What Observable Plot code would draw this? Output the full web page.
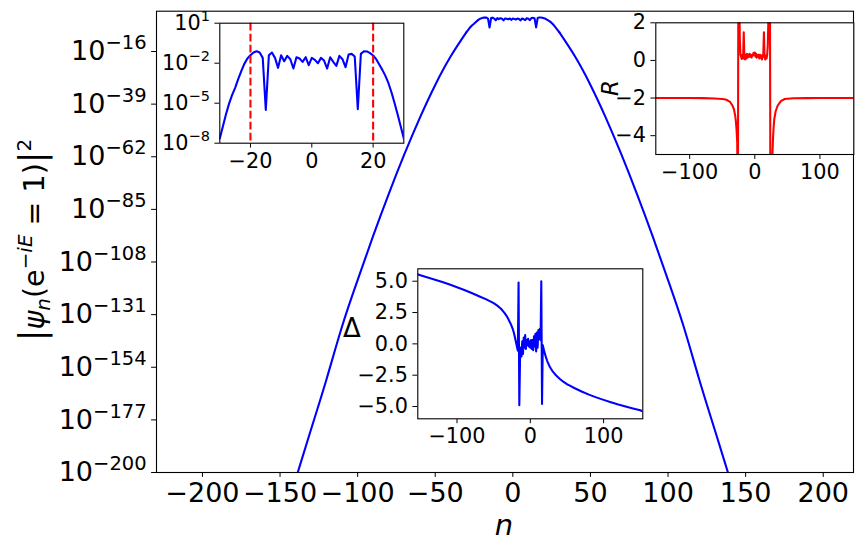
<!DOCTYPE html>
<html><head><meta charset="utf-8">
<script src="https://cdn.jsdelivr.net/npm/d3@7"></script>
<script src="https://cdn.jsdelivr.net/npm/@observablehq/plot@0.6"></script>
<style>
html,body{margin:0;padding:0;background:#fff;}
#wrap{position:relative;width:863px;height:554px;overflow:hidden;font-family:"DejaVu Sans";}
#wrap svg{position:absolute;left:0;top:0;}
</style></head><body><div id="wrap"></div>
<script>
// ---------- main panel data: log10 |psi_n|^2 ----------
const mainXTicks = [-200, -150, -100, -50, 0, 50, 100, 150, 200];
const mainYTickExp = [-200, -177, -154, -131, -108, -85, -62, -39, -16];
const leftN   = [-150, -140, -130, -120, -110, -100, -90, -80, -70, -60, -50, -40, -30];
const leftLog = [-225, -203.1, -181.1, -159.1, -136.1, -115.9, -96.6, -78.3, -61.1, -45.1, -30.6, -18.1, -7.65];
const coreN = [-30,-29,-28,-27,-26,-25,-24,-23,-22,-21,-20,-19,-18,-17,-16,-15,-14,-13,-12,-11,-10,-9,-8,-7,-6,-5,-4,-3,-2,-1,0,1,2,3,4,5,6,7,8,9,10,11,12,13,14,15,16,17,18,19,20,21,22,23,24,25,26,27,28,29,30];
const coreLog = [-7.65,-6.75,-5.85,-5.05,-4.4,-3.85,-3.2,-2.6,-2.05,-1.65,-1.4,-1.2,-1.1,-1.2,-1.6,-5.5,-1.4,-1.2,-1.6,-2.35,-1.4,-1.85,-1.45,-1.7,-2.4,-1.55,-1.65,-1.9,-1.55,-2.15,-1.6,-1.75,-2.0,-1.6,-1.8,-2.4,-1.55,-1.9,-2.2,-1.45,-1.7,-2.3,-1.35,-1.3,-1.5,-5.45,-1.3,-1.1,-1.12,-1.25,-1.42,-1.7,-2.1,-2.5,-2.95,-3.5,-4.2,-5.0,-5.85,-6.75,-7.65];
const rightN   = [30, 40, 50, 60, 70, 80, 90, 100, 110, 120, 130, 140, 150];
const rightLog = [-7.65, -18.1, -30.6, -45.1, -61.1, -78.3, -96.6, -115.9, -136.1, -159.1, -181.1, -203.1, -225];

// ---------- inset 1 (zoom) ----------
const zoomXTicks = [-20, 0, 20];
const zoomYTickExp = [1, -2, -5, -8];
const zoomMarkers = [-20, 20];

// ---------- inset 2: R ----------
const rXTicks = [-100, 0, 100];
const rYTicks = [2, 0, -2, -4];
const rN = [-153,-100,-80,-62,-50,-45,-42,-38,-34,-32,-30,-29,-28,-27,-26,-25,-24,-23,-22,-21,-20,-19,-18,-17,-16,-15,-14,-13,-12,-11,-10,-9,-8,-7,-6,-5,-4,-3,-2,-1,0,1,2,3,4,5,6,7,8,9,10,11,12,13,14,15,16,17,18,19,20,21,22,23,24,25,26,27,28,29,30,32,35,40,46,50,60,80,100,153];
const rV = [-2.0,-2.0,-2.005,-2.02,-2.05,-2.08,-2.12,-2.2,-2.42,-2.6,-2.95,-3.25,-3.7,-4.35,-9,9,4.5,1.1,0.3,0.2,0.08,0.3,0.1,1.5,0.15,0.05,0.3,0.1,0.35,0.15,0.3,0.2,0.35,0.2,0.3,0.15,0.3,0.25,0.4,0.3,0.42,0.2,0.35,0.15,0.3,0.2,0.3,0.1,0.3,0.15,0.25,0.05,0.3,0.2,1.5,0.2,0.05,0.25,0.1,0.3,0.8,2.5,9,9,-9,-9,-6,-5.1,-4.1,-3.5,-3.1,-2.7,-2.41,-2.16,-2.05,-2.04,-2.01,-2.005,-2.0,-2.0];

// ---------- inset 3: Delta ----------
const dXTicks = [-100, 0, 100];
const dYTicks = [-5, -2.5, 0, 2.5, 5];
const dN = [-153,-150,-140,-130,-120,-110,-100,-90,-80,-70,-60,-50,-45,-40,-35,-32,-30,-28,-26,-24,-23,-22,-21,-20,-19,-18,-17,-16,-15,-14,-13,-12,-11,-10,-9,-8,-7,-6,-5,-4,-3,-2,-1,0,1,2,3,4,5,6,7,8,9,10,11,12,13,14,15,16,17,18,19,20,21,22,23,24,25,26,27,28,30,32,35,40,45,50,54,60,70,80,90,100,110,120,130,140,150,153];
const dV = [5.53,5.48,5.3,5.12,4.93,4.73,4.52,4.3,4.06,3.8,3.55,3.25,3.05,2.8,2.45,2.2,1.98,1.75,1.5,1.2,1.0,0.78,0.52,0.25,-0.02,-0.3,-0.55,4.9,-4.9,-1.2,-0.3,-1.0,0.2,-0.8,0.5,-0.3,0.7,-0.4,0.3,-0.1,0.4,-0.2,0.2,-0.3,0.3,-0.4,0.3,-0.5,0.6,-0.2,0.8,-0.6,0.9,-0.3,1.1,0.4,1.2,0.3,5.0,-4.8,-0.1,-0.35,-0.6,-0.8,-1.0,-1.18,-1.35,-1.5,-1.63,-1.76,-1.87,-1.97,-2.15,-2.3,-2.5,-2.78,-3.02,-3.22,-3.33,-3.52,-3.8,-4.05,-4.27,-4.47,-4.66,-4.84,-5.0,-5.15,-5.3,-5.38];

// ---------- helpers ----------
const W = 863, H = 554;
const BLUE = "#0000ff", RED = "#ff0000";
const LW = 2.08, FW = 1.1, TICK = 4.9;
const minus = v => (v < 0 ? "\u2212" + (-v) : String(v));
const fmt1 = v => (v < 0 ? "\u2212" + (-v).toFixed(1) : v.toFixed(1));
const rows = (xs, ys, f = v => v) => xs.map((n, i) => ({n, v: f(ys[i])}));
const pow10 = e => Math.pow(10, e);
function supTicks(svg, supSize, raise) {
  d3.select(svg).selectAll('g[aria-label="y-axis tick label"] text').each(function () {
    const s = this.textContent;
    if (!s.includes("^")) return;
    const [b, e] = s.split("^");
    const t = d3.select(this);
    t.text(null);
    t.append("tspan").text(b);
    t.append("tspan").attr("dy", -raise).attr("font-size", supSize).text(e);
  });
}
function frameBox(l, t, r, b) {
  return {marginLeft: l, marginTop: t, marginRight: W - r, marginBottom: H - b};
}
const wrap = document.getElementById("wrap");

// ---------- main ----------
const main = Plot.plot({
  width: W, height: H,
  ...frameBox(156, 10.7, 853, 472),
  style: {fontFamily: "DejaVu Sans", fontSize: "27px", background: "white", overflow: "visible", color: "black"},
  x: {domain: [-229.6, 219.5], ticks: mainXTicks, tickFormat: minus, tickSize: TICK, tickPadding: 5, label: null},
  y: {type: "log", domain: [1e-200, pow10(1.62)], ticks: mainYTickExp.map(pow10),
      tickFormat: d => "10^" + minus(Math.round(Math.log10(d))), tickSize: TICK, tickPadding: 5, label: null},
  marks: [
    Plot.line(rows(leftN, leftLog, pow10), {x: "n", y: "v", stroke: BLUE, strokeWidth: LW, curve: "natural", clip: true}),
    Plot.line(rows(coreN, coreLog, pow10), {x: "n", y: "v", stroke: BLUE, strokeWidth: LW, clip: true}),
    Plot.line(rows(rightN, rightLog, pow10), {x: "n", y: "v", stroke: BLUE, strokeWidth: LW, curve: "natural", clip: true}),
    Plot.frame({stroke: "black", strokeWidth: FW})
  ]
});
supTicks(main, 19.5, 11);
wrap.appendChild(main);
{
  const s = d3.select(main);
  // x label
  s.append("text").attr("x", 504).attr("y", 535).attr("text-anchor", "middle")
    .attr("font-size", 29).attr("font-style", "italic").text("n");
  // y label
  const fs = 28.5;
  const t = s.append("text").attr("transform", "translate(43.7,240) rotate(-90)")
    .attr("text-anchor", "middle").attr("font-size", fs);
  const parts = [
    {t: "|", big: 1}, {t: "\u03c8", i: 1}, {t: "n", i: 1, sh: 0.22}, {t: "(e"},
    {t: "\u2212", sh: -0.42}, {t: "iE", i: 1, sh: -0.42}, {t: " = 1)"}, {t: "|", big: 1}, {t: "2", sh: -0.46}
  ];
  let cur = 0;
  for (const p of parts) {
    const sh = (p.sh || 0) * fs;
    const ts = t.append("tspan").text(p.t).attr("dy", sh - cur);
    if (p.i) ts.attr("font-style", "italic");
    if (p.sh) ts.attr("font-size", fs * 0.7);
    if (p.big) ts.attr("font-size", 35);
    cur = sh;
  }
}

// ---------- inset 1: zoom of |psi|^2 ----------
const ins1 = Plot.plot({
  width: W, height: H,
  ...frameBox(219.3, 22.7, 403.3, 142.7),
  style: {fontFamily: "DejaVu Sans", fontSize: "20.8px", background: "transparent", overflow: "visible", color: "black"},
  x: {domain: [-30, 30], ticks: zoomXTicks, tickFormat: minus, tickSize: TICK, tickPadding: 5, label: null},
  y: {type: "log", domain: [1e-8, 1e1], ticks: zoomYTickExp.map(pow10),
      tickFormat: d => "10^" + minus(Math.round(Math.log10(d))), tickSize: TICK, tickPadding: 5, label: null},
  marks: [
    Plot.frame({fill: "white"}),
    Plot.line(rows(coreN, coreLog, pow10), {x: "n", y: "v", stroke: BLUE, strokeWidth: LW, clip: true}),
    Plot.ruleX(zoomMarkers, {stroke: RED, strokeWidth: LW, strokeDasharray: "7.7,3.3"}),
    Plot.frame({stroke: "black", strokeWidth: FW})
  ]
});
supTicks(ins1, 14.5, 8.5);
wrap.appendChild(ins1);

// ---------- inset 2: R ----------
const ins2 = Plot.plot({
  width: W, height: H,
  ...frameBox(655.3, 22.3, 853.3, 154),
  style: {fontFamily: "DejaVu Sans", fontSize: "20.8px", background: "transparent", overflow: "visible", color: "black"},
  x: {domain: [-152, 152], ticks: rXTicks, tickFormat: minus, tickSize: TICK, tickPadding: 5, label: null},
  y: {domain: [-5, 2], ticks: rYTicks, tickFormat: minus, tickSize: TICK, tickPadding: 5, label: null},
  marks: [
    Plot.frame({fill: "white"}),
    Plot.line(rows(rN, rV), {x: "n", y: "v", stroke: RED, strokeWidth: LW, clip: true}),
    Plot.frame({stroke: "black", strokeWidth: FW})
  ]
});
wrap.appendChild(ins2);
d3.select(ins2).append("text").attr("transform", "translate(618.3,88) rotate(-90)")
  .attr("text-anchor", "middle").attr("font-size", 23).attr("font-style", "italic").text("R");

// ---------- inset 3: Delta ----------
const ins3 = Plot.plot({
  width: W, height: H,
  ...frameBox(417.3, 268.3, 642.3, 418.3),
  style: {fontFamily: "DejaVu Sans", fontSize: "20.8px", background: "transparent", overflow: "visible", color: "black"},
  x: {domain: [-153.5, 153.5], ticks: dXTicks, tickFormat: minus, tickSize: TICK, tickPadding: 5, label: null},
  y: {domain: [-5.98, 5.99], ticks: dYTicks, tickFormat: fmt1, tickSize: TICK, tickPadding: 5, label: null},
  marks: [
    Plot.frame({fill: "white"}),
    Plot.line(rows(dN, dV), {x: "n", y: "v", stroke: BLUE, strokeWidth: LW, clip: true}),
    Plot.frame({stroke: "black", strokeWidth: FW})
  ]
});
wrap.appendChild(ins3);
d3.select(ins3).append("text").attr("x", 352).attr("y", 337)
  .attr("text-anchor", "middle").attr("font-size", 26).text("\u0394");
</script></body></html>
